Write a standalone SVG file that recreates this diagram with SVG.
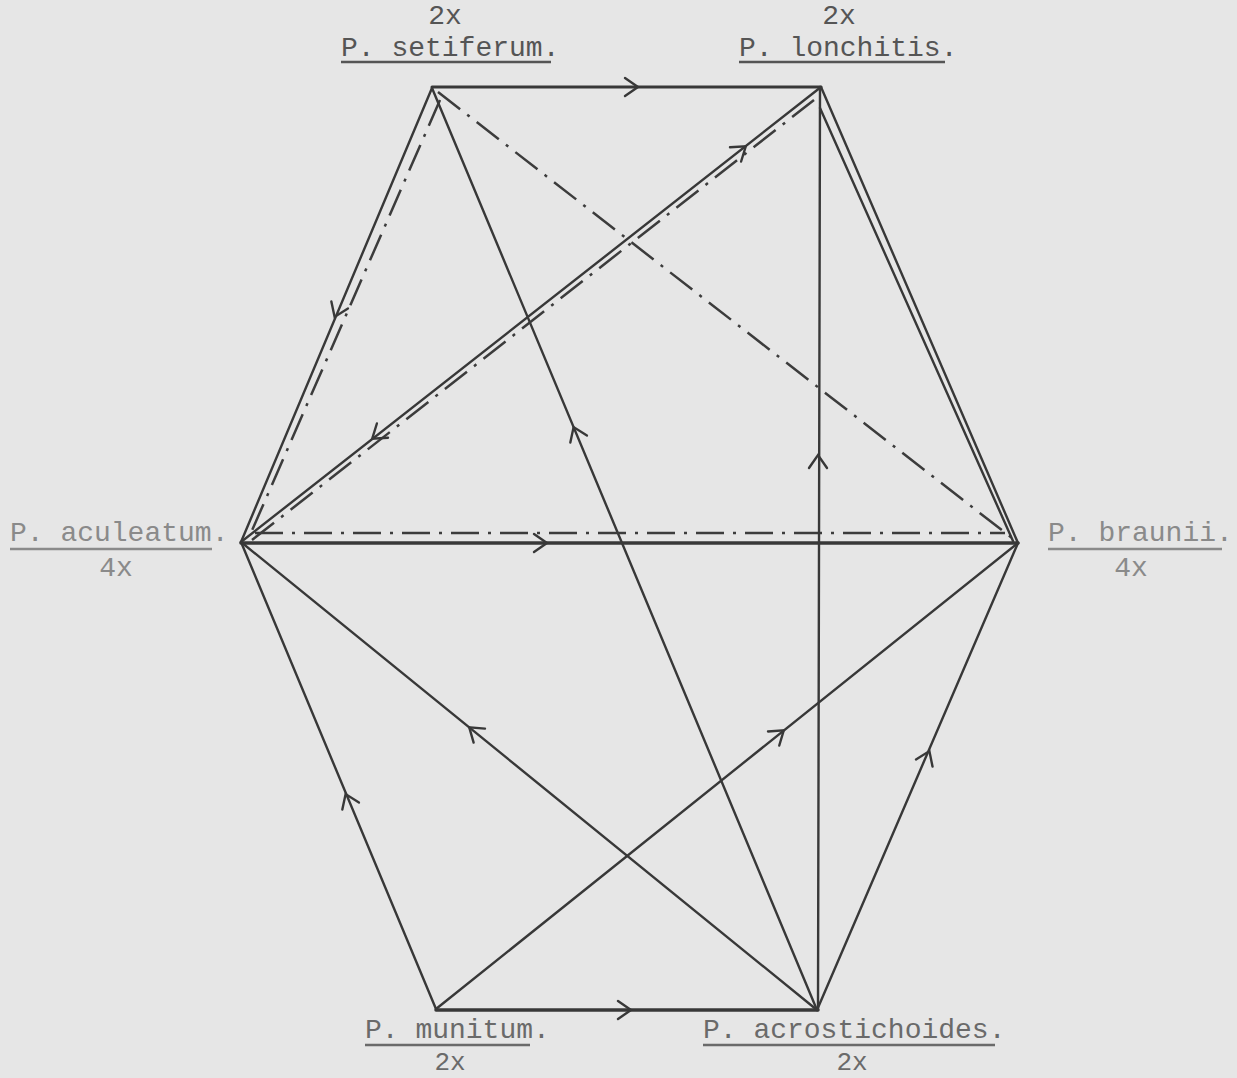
<svg xmlns="http://www.w3.org/2000/svg" xmlns:xlink="http://www.w3.org/1999/xlink" width="1237" height="1078" viewBox="0 0 1237 1078">
<style>
.bg{fill:#e6e6e6}
.ln{stroke:#383838;stroke-width:2.4;fill:none;stroke-linecap:round}
.thick{stroke-width:3.6}
.dd{stroke:#3c3c3c;stroke-width:2.5;fill:none;stroke-dasharray:28 9 3 9}
.chev{stroke:#383838;stroke-width:2.4;fill:none;stroke-linecap:round;stroke-linejoin:miter}
.lbl{font-family:"Liberation Mono","Courier New",monospace;font-size:28px}
.sm{font-size:26px}
.ul{stroke-width:2.4}
.top{fill:#555}.topu{stroke:#555}
.side{fill:#8a8a8a}.sideu{stroke:#8a8a8a}
.bot{fill:#6a6a6a}.botu{stroke:#6a6a6a}
</style>
<defs>
<path id="chev" d="M -12 -9 L 1 0 L -12 9"/>
</defs>
<rect class="bg" x="0" y="0" width="1237" height="1078"/>

<g id="connectors">
<line class="ln" x1="432" y1="87" x2="821" y2="87" style="stroke-width:3"/>
<line class="ln" x1="432" y1="88" x2="241" y2="542"/>
<line class="dd" x1="440" y1="100" x2="250" y2="535"/>
<line class="dd" x1="438" y1="92" x2="1012" y2="538"/>
<line class="ln" x1="432" y1="88" x2="817" y2="1010"/>
<line class="ln" x1="241" y1="542" x2="821" y2="87"/>
<line class="dd" x1="252" y1="540" x2="814" y2="100"/>
<line class="ln thick" x1="241" y1="543" x2="1018" y2="543"/>
<line class="dd" x1="255" y1="533" x2="1005" y2="533"/>
<line class="ln" x1="821" y1="87" x2="1018" y2="543"/>
<line class="ln" x1="820" y1="108" x2="1013" y2="541"/>
<line class="ln" x1="820" y1="87" x2="818" y2="1010"/>
<line class="ln" x1="241" y1="542" x2="436" y2="1009"/>
<line class="ln" x1="241" y1="542" x2="817" y2="1010"/>
<line class="ln" x1="436" y1="1009" x2="1018" y2="543"/>
<line class="ln" x1="817" y1="1010" x2="1018" y2="543"/>
<line class="ln" x1="436" y1="1010" x2="818" y2="1010" style="stroke-width:3.4"/>
<g class="chev">
<use xlink:href="#chev" transform="translate(637 87)"/>
<use xlink:href="#chev" transform="translate(335 316) rotate(112.8)"/>
<use xlink:href="#chev" transform="translate(373 438) rotate(141.9)"/>
<use xlink:href="#chev" transform="translate(745 147) rotate(-38.1)"/>
<use xlink:href="#chev" transform="translate(546 543)"/>
<use xlink:href="#chev" transform="translate(574 428) rotate(-112.7)"/>
<use xlink:href="#chev" transform="translate(818 456) rotate(-90)"/>
<use xlink:href="#chev" transform="translate(346 795) rotate(-112.7)"/>
<use xlink:href="#chev" transform="translate(470 728) rotate(-140.9)"/>
<use xlink:href="#chev" transform="translate(783 731) rotate(-38.7)"/>
<use xlink:href="#chev" transform="translate(929 752) rotate(-66.7)"/>
<use xlink:href="#chev" transform="translate(630 1010)"/>
</g>
</g>

<g id="node-setiferum">
<text class="lbl top" x="445" y="24" text-anchor="middle">2x</text>
<text class="lbl top" x="341" y="56">P. setiferum.</text>
<line class="ul topu" x1="341" y1="62" x2="551" y2="62"/>
</g>
<g id="node-lonchitis">
<text class="lbl top" x="839" y="24" text-anchor="middle">2x</text>
<text class="lbl top" x="739" y="56">P. lonchitis.</text>
<line class="ul topu" x1="739" y1="62" x2="945" y2="62"/>
</g>
<g id="node-aculeatum">
<text class="lbl side" x="10" y="541">P. aculeatum.</text>
<line class="ul sideu" x1="10" y1="549" x2="212" y2="549"/>
<text class="lbl side" x="116" y="576" text-anchor="middle">4x</text>
</g>
<g id="node-braunii">
<text class="lbl side" x="1048" y="541">P. braunii.</text>
<line class="ul sideu" x1="1048" y1="549" x2="1222" y2="549"/>
<text class="lbl side" x="1131" y="576" text-anchor="middle">4x</text>
</g>
<g id="node-munitum">
<text class="lbl bot" x="365" y="1038">P. munitum.</text>
<line class="ul botu" x1="365" y1="1045" x2="530" y2="1045"/>
<text class="lbl bot sm" x="450" y="1070" text-anchor="middle">2x</text>
</g>
<g id="node-acrostichoides">
<text class="lbl bot" x="703" y="1038">P. acrostichoides.</text>
<line class="ul botu" x1="703" y1="1045" x2="995" y2="1045"/>
<text class="lbl bot sm" x="852" y="1070" text-anchor="middle">2x</text>
</g>
</svg>
